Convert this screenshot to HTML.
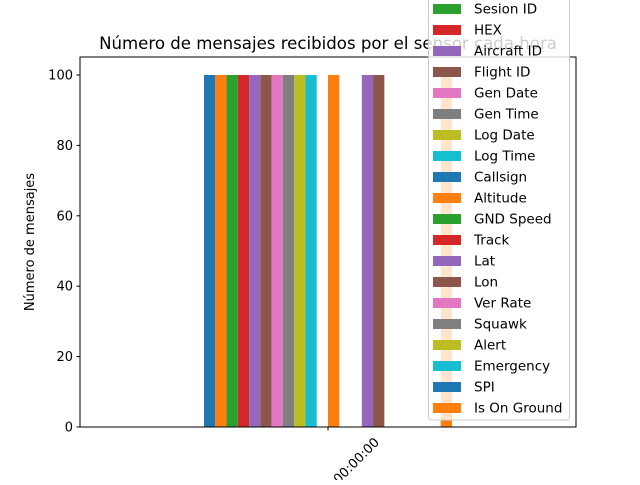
<!DOCTYPE html>
<html><head><meta charset="utf-8"><style>
body{margin:0;background:#fff}
svg text{font-family:"DejaVu Sans","Liberation Sans",sans-serif}
</style></head><body>
<svg width="640" height="480" xmlns="http://www.w3.org/2000/svg">
<rect width="640" height="480" fill="#fff"/>
<g id="plot"></g>
<script>
const seriesNames=["ID","Tipo","Sesion ID","HEX","Aircraft ID","Flight ID","Gen Date","Gen Time","Log Date","Log Time","Callsign","Altitude","GND Speed","Track","Lat","Lon","Ver Rate","Squawk","Alert","Emergency","SPI","Is On Ground"];
const seriesValues=[100,100,100,100,100,100,100,100,100,100,0,100,0,0,100,100,0,0,0,0,0,100];
const categories=["00:00:00"];
const yTicks=[0,20,40,60,80,100];
const colors=["#1f77b4","#ff7f0e","#2ca02c","#d62728","#9467bd","#8c564b","#e377c2","#7f7f7f","#bcbd22","#17becf"];
const NS="http://www.w3.org/2000/svg";
const L=80,R=576,T=57,B=427;
const y=v=>B-(v/100)*352;
const cx=328, groupW=248, bw=groupW/seriesNames.length;
const g=document.getElementById('plot');
function el(t,a,p){const e=document.createElementNS(NS,t);for(const k in a)e.setAttribute(k,a[k]);(p||g).appendChild(e);return e;}
seriesValues.forEach((v,i)=>{
 const r=el('rect',{x:cx-groupW/2+i*bw,y:y(v),width:bw,height:B-y(v),fill:colors[i%10]});
 
 
});
const f=el('rect',{x:L,y:T,width:R-L,height:B-T,fill:'none',stroke:'#000','stroke-width':1});


yTicks.forEach(t=>{
 el('line',{x1:L-3.5,x2:L,y1:y(t),y2:y(t),stroke:'#000'});
 const tx=el('text',{x:L-7,y:y(t)+4.5,'text-anchor':'end','font-size':'13'});
 tx.textContent=t;
 
 
});
categories.forEach(c=>{
 el('line',{x1:cx,x2:cx,y1:B,y2:B+3.5,stroke:'#000'});
 const tx=el('text',{x:0,y:0,'text-anchor':'end','font-size':'13',transform:`translate(${cx+52},${B+16}) rotate(-45)`});
 tx.textContent=c;
 
 
});
const ti=el('text',{x:328,y:49,'text-anchor':'middle','font-size':'16.6'});
ti.textContent="Número de mensajes recibidos por el sensor cada hora";


const yl=el('text',{x:0,y:0,'text-anchor':'middle','font-size':'13',transform:'translate(34,242) rotate(-90)'});
yl.textContent="Número de mensajes";


const lg=el('g',{});


el('rect',{x:428.5,y:-35,width:141,height:455,rx:3,fill:'#fff','fill-opacity':0.8,stroke:'#ccc'},lg);
seriesNames.forEach((n,i)=>{
 const yy=8+(i-2)*21;
 el('rect',{x:433,y:yy-4,width:28,height:10,fill:colors[i%10]},lg);
 const t=el('text',{x:474,y:yy+5.5,'font-size':'13.5'},lg);
 t.textContent=n;
 
 
});
</script>
</svg>
</body></html>
